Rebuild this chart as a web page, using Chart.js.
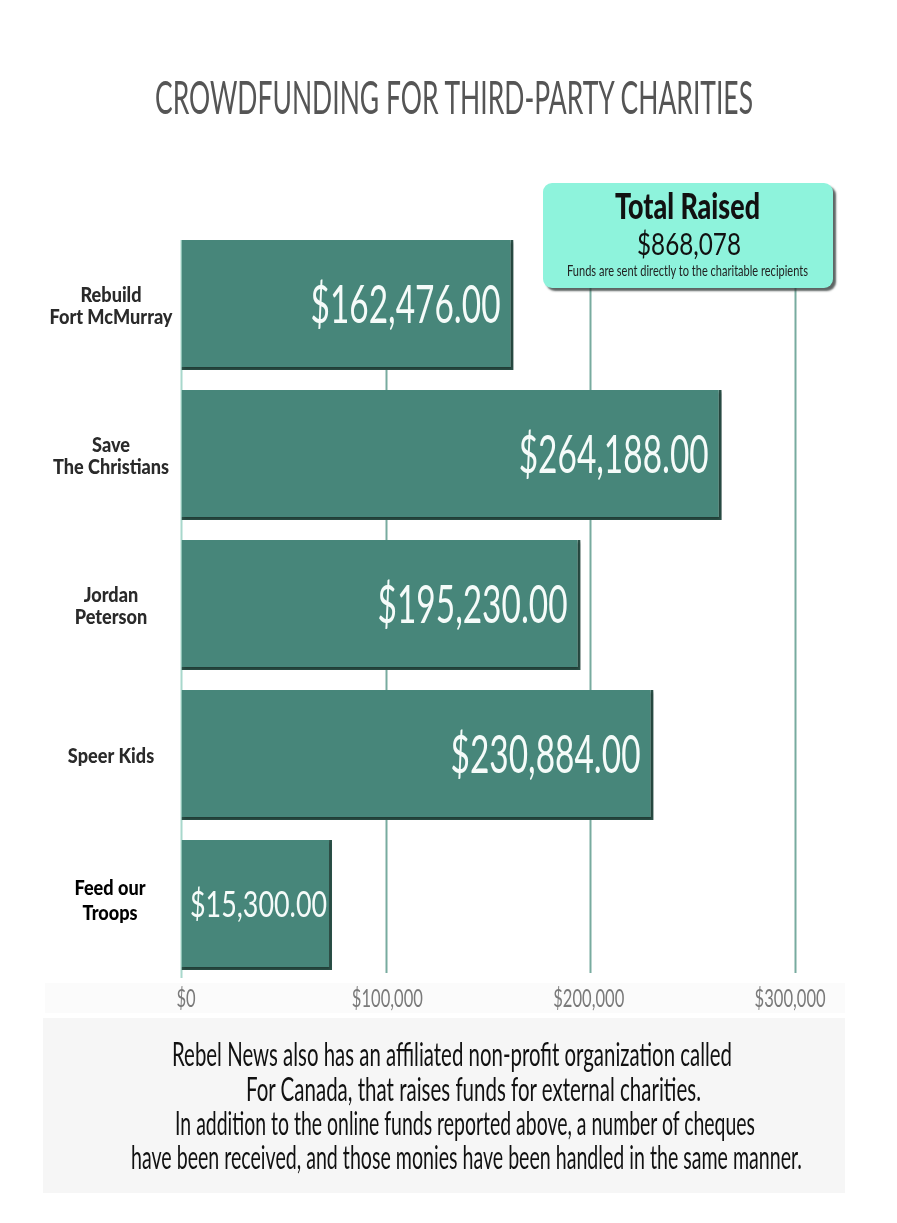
<!DOCTYPE html>
<html>
<head>
<meta charset="utf-8">
<title>Crowdfunding for third-party charities</title>
<script src="https://cdn.jsdelivr.net/npm/chart.js@4.4.1/dist/chart.umd.min.js"></script>
<style>
  body { margin: 0; background: #fff; }
  #wrap { position: relative; width: 897px; height: 1223px; overflow: hidden; background: #fff; }
  #chart { position: absolute; left: 0; top: 0; }
  .fit { position: absolute; white-space: nowrap; transform-origin: 0 0; font-weight: 400;
         font-family: Lato, 'DejaVu Sans Condensed', sans-serif; }
  .fit.b { font-weight: 900; }
  #axisBand { position: absolute; left: 45px; top: 983px; width: 800px; height: 30px; background: #fbfbfb; }
  #notePanel { position: absolute; left: 43px; top: 1018px; width: 802px; height: 175px; background: #f6f6f6; }
  #totalBox { position: absolute; left: 543px; top: 183px; width: 290px; height: 105px;
              background: #8ef3dc; border-radius: 9px; box-shadow: 3px 3px 2px rgba(40,50,48,0.75); }
</style>
</head>
<body>
<div id="wrap">
  <div id="axisBand"></div>
  <div id="notePanel"></div>
  <canvas id="chart" width="897" height="1223"></canvas>

  <div class="fit" style="color:#555" data-l="155" data-r="753" data-y="96" data-fs="47">CROWDFUNDING FOR THIRD-PARTY CHARITIES</div>

  <div id="totalBox"></div>
  <div class="fit b" style="color:#111" data-l="615" data-r="760" data-y="205" data-fs="36">Total Raised</div>
  <div class="fit" id="totalValue" style="color:#111" data-l="637" data-r="741" data-y="243" data-fs="30"></div>
  <div class="fit" style="color:#222" data-l="567" data-r="808" data-y="270" data-fs="16">Funds are sent directly to the charitable recipients</div>

  <div class="fit" style="color:#111" data-l="172" data-r="732" data-y="1053" data-fs="33">Rebel News also has an affiliated non-profit organization called</div>
  <div class="fit" style="color:#111" data-l="246" data-r="701" data-y="1088" data-fs="33">For Canada, that raises funds for external charities.</div>
  <div class="fit" style="color:#111" data-l="175" data-r="755" data-y="1122" data-fs="33">In addition to the online funds reported above, a number of cheques</div>
  <div class="fit" style="color:#111" data-l="131" data-r="802" data-y="1156" data-fs="33">have been received, and those monies have been handled in the same manner.</div>
</div>

<script>
// charities and amounts raised
const categories = [
  ['Rebuild', 'Fort McMurray'],
  ['Save', 'The Christians'],
  ['Jordan', 'Peterson'],
  ['Speer Kids'],
  ['Feed our', 'Troops']
];
const raised = [162476, 264188, 195230, 230884, 15300];
// bar lengths as drawn in the original (the last bar is drawn longer than its amount)
const barLengths = [162476, 264188, 195230, 230884, 73800];
const xTicks = [0, 100000, 200000, 300000];
const labelColors = ['#2a2a2a', '#2a2a2a', '#2a2a2a', '#2a2a2a', '#000'];

const FONT = "Lato, 'DejaVu Sans Condensed', sans-serif";

const money = (v, dec) => '$' + v.toLocaleString('en-US', { minimumFractionDigits: dec, maximumFractionDigits: dec });

document.getElementById('totalValue').textContent = money(raised.reduce((a, b) => a + b, 0), 0);

// squeeze html text lines into the widths of the condensed original
document.querySelectorAll('.fit').forEach(el => {
  const fs = +el.dataset.fs;
  el.style.fontSize = fs + 'px';
  el.style.lineHeight = fs + 'px';
  el.style.left = el.dataset.l + 'px';
  el.style.top = (+el.dataset.y - 0.49 * fs) + 'px';
  const w = el.getBoundingClientRect().width;
  el.style.transform = 'scaleX(' + ((el.dataset.r - el.dataset.l) / w) + ')';
});

// draw a text squeezed horizontally by sx
function squeezed(c, txt, x, y, sx) {
  c.save();
  c.translate(x, y);
  c.scale(sx, 1);
  c.fillText(txt, 0, 0);
  c.restore();
}

// grid only as tall as the bars, shadow under the bars,
// value text inside them, category and $ axis labels
const barText = {
  id: 'barText',
  beforeDatasetsDraw(chart) {
    const c = chart.ctx;
    const bars = chart.getDatasetMeta(0).data;
    const xs = chart.scales.x;
    const top = bars[0].y - bars[0].height / 2;
    const last = bars[bars.length - 1];
    const bottom = last.y + last.height / 2;
    c.save();
    c.lineWidth = 2;
    xs.ticks.forEach((t, i) => {
      const x = Math.round(xs.getPixelForTick(i)) + 0.5;
      c.strokeStyle = t.value === 0 ? '#a8d8cc' : '#78ab9f';
      c.beginPath();
      c.moveTo(x, top);
      c.lineTo(x, bottom + (t.value === 0 ? 8 : 3));
      c.stroke();
    });
    c.restore();

    c.save();
    c.shadowColor = 'rgba(0,0,0,0.35)';
    c.shadowBlur = 3;
    c.shadowOffsetX = 1;
    c.shadowOffsetY = 2;
  },
  afterDatasetsDraw(chart) {
    const c = chart.ctx;
    c.restore();
    const bars = chart.getDatasetMeta(0).data;
    const left = chart.scales.x.getPixelForValue(0);

    c.save();
    c.textBaseline = 'alphabetic';

    // values inside the bars
    c.fillStyle = '#f5fbf9';
    c.font = '400 52px ' + FONT;
    const k = 190 / c.measureText('$162,476.00').width;
    bars.forEach((bar, i) => {
      const txt = money(raised[i], 2);
      let fs = 52, sx = k;
      c.font = '400 ' + fs + 'px ' + FONT;
      const w = c.measureText(txt).width * sx;
      let x = bar.x - 13;
      c.textAlign = 'right';
      if (w > bar.x - left - 26) {
        // too long for its bar: smaller and centred
        fs = 37;
        c.font = '400 ' + fs + 'px ' + FONT;
        sx = (bar.x - left - 14) / c.measureText(txt).width;
        x = (bar.x + left) / 2 + 2;
        c.textAlign = 'center';
      }
      squeezed(c, txt, x, bar.y + 0.36 * fs - 1, sx);
    });

    // category labels, centred left of the bars
    const ys = chart.scales.y;
    c.font = '900 21px ' + FONT;
    c.textAlign = 'center';
    const kc = 123 / c.measureText('Fort McMurray').width;
    ys.ticks.forEach((t, i) => {
      const lines = categories[i];
      const yc = ys.getPixelForTick(i) - (i === 4 ? 5 : 0);
      const step = i === 4 ? 25 : 22;
      c.fillStyle = labelColors[i];
      lines.forEach((ln, j) => {
        const yl = yc + (j - (lines.length - 1) / 2) * step;
        squeezed(c, ln, i === 4 ? 110 : 111, yl + 7.5, kc);
      });
    });

    // x axis labels (the original sets them a little inward of the grid lines)
    const xs = chart.scales.x;
    c.fillStyle = '#7a7a7a';
    c.font = '400 25px ' + FONT;
    c.textAlign = 'center';
    const kt = 71 / c.measureText('$100,000').width;
    xs.ticks.forEach((t, i) => {
      squeezed(c, money(t.value, 0), xs.getPixelForTick(i) + 5 - i * 3.3, 1007, kt);
    });
    c.restore();
  }
};

const ctx = document.getElementById('chart').getContext('2d');
const chart = new Chart(ctx, {
  type: 'bar',
  data: {
    labels: categories,
    datasets: [{
      data: barLengths,
      backgroundColor: '#47867a',
      borderColor: '#2c5249',
      borderWidth: { top: 0, right: 3, bottom: 3, left: 0 },
      barPercentage: 0.867,
      categoryPercentage: 1
    }]
  },
  options: {
    indexAxis: 'y',
    responsive: false,
    animation: false,
    layout: { padding: { top: 230, right: 102, bottom: 213, left: 0 } },
    plugins: {
      legend: { display: false },
      tooltip: { enabled: false }
    },
    scales: {
      x: {
        min: xTicks[0],
        max: xTicks[xTicks.length - 1],
        afterBuildTicks: s => { s.ticks = xTicks.map(v => ({ value: v })); },
        ticks: { display: false },
        grid: { drawOnChartArea: false, drawTicks: false },
        border: { display: false },
        afterFit: s => { s.height = 30; }
      },
      y: {
        grid: { display: false },
        border: { display: false },
        ticks: { display: false },
        afterFit: s => { s.width = 181; }
      }
    }
  },
  plugins: [barText]
});
</script>
</body>
</html>
